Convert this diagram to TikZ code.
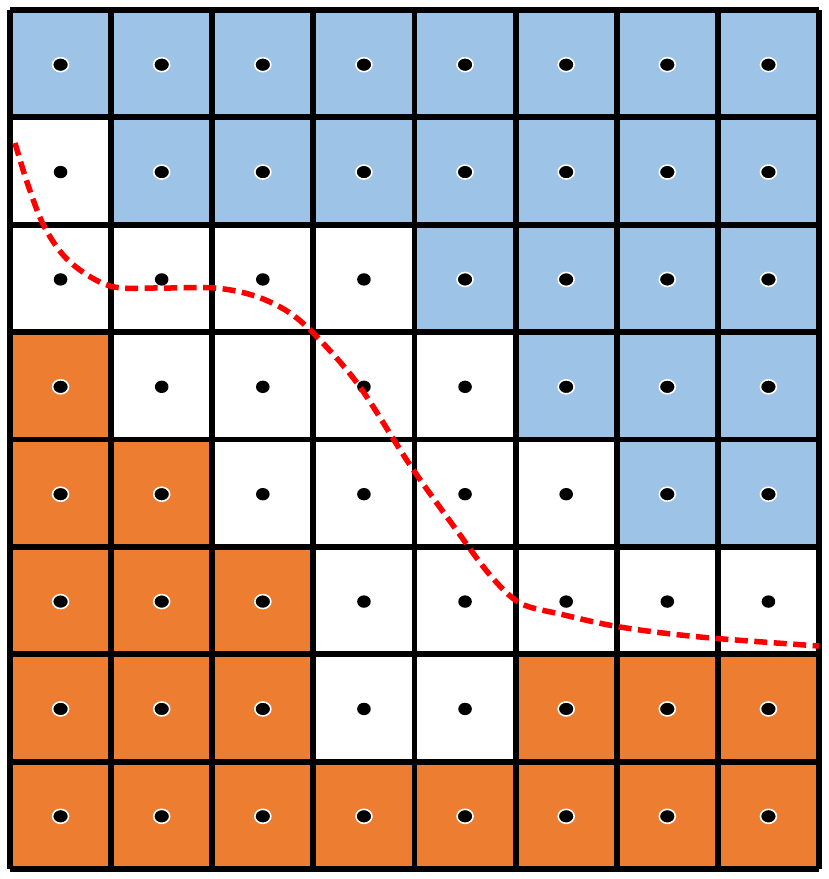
\documentclass[tikz,border=0pt]{standalone}
\definecolor{cb}{HTML}{9DC3E6}
\definecolor{co}{HTML}{ED7D31}
\definecolor{cw}{HTML}{FFFFFF}
\tikzset{
  gridline/.style={line width=5.8pt, black},
  colordot/.style={fill=black, draw=white, line width=1.6pt},
  plaindot/.style={fill=black},
  boundary/.style={red, line width=5.5pt, dash pattern=on 13pt off 6.5pt}
}
\begin{document}
\begin{tikzpicture}[x=1pt,y=-1pt]
\useasboundingbox (0,0) rectangle (829,879);
\def\cw{101.125}
\def\ch{107.375}
\foreach \r [count=\j from 0] in {{b,b,b,b,b,b,b,b},{w,b,b,b,b,b,b,b},{w,w,w,w,b,b,b,b},{o,w,w,w,w,b,b,b},{o,o,w,w,w,w,b,b},{o,o,o,w,w,w,w,w},{o,o,o,w,w,o,o,o},{o,o,o,o,o,o,o,o}}{
  \foreach \c [count=\i from 0] in \r {
    \fill[c\c] ({10+\i*\cw},{10+\j*\ch}) rectangle ({10+(\i+1)*\cw},{10+(\j+1)*\ch});
  }
}
\foreach \k in {0,...,8}{
  \draw[gridline] ({10+\k*\cw},10) -- ({10+\k*\cw},869);
  \draw[gridline] (10,{10+\k*\ch}) -- (819,{10+\k*\ch});
}
\foreach \r [count=\j from 0] in {{b,b,b,b,b,b,b,b},{w,b,b,b,b,b,b,b},{w,w,w,w,b,b,b,b},{o,w,w,w,w,b,b,b},{o,o,w,w,w,w,b,b},{o,o,o,w,w,w,w,w},{o,o,o,w,w,o,o,o},{o,o,o,o,o,o,o,o}}{
  \foreach \c [count=\i from 0] in \r {
    \if\c w
      \fill[plaindot] ({10+(\i+0.5)*\cw},{10+(\j+0.5)*\ch+1}) ellipse (6.8 and 6.2);
    \else
      \filldraw[colordot] ({10+(\i+0.5)*\cw},{10+(\j+0.5)*\ch+1}) ellipse (8 and 7);
    \fi
  }
}
\draw[boundary] plot[smooth, tension=0.55] coordinates {(15,143) (28,185) (45,228) (70,262) (110,286) (160,288) (215,288) (255,296) (290,313) (320,340) (360,387) (410,465) (455,528) (490,575) (520,603) (560,614) (620,627) (700,637) (819,646)};
\end{tikzpicture}
\end{document}
